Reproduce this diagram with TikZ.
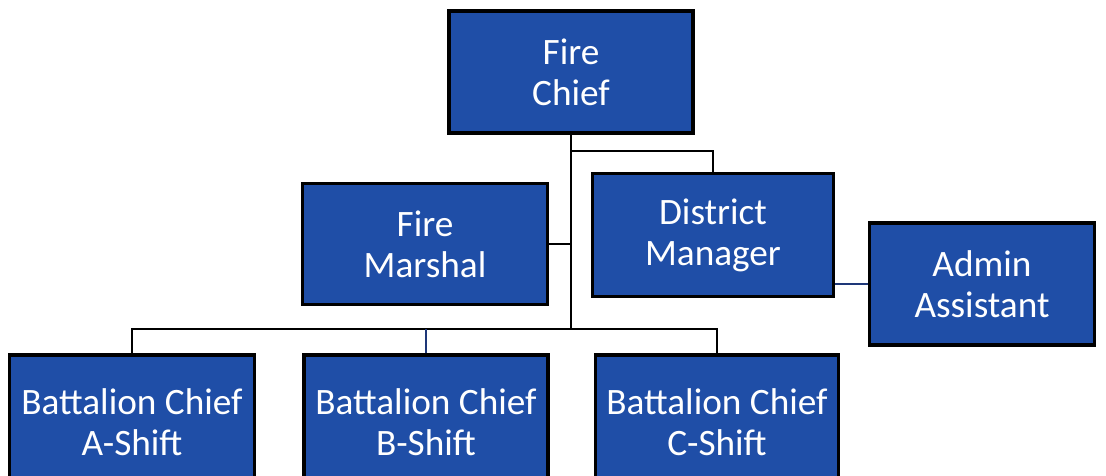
\documentclass[tikz,border=0pt]{standalone}
\usepackage{fontspec}
\setmainfont{Carlito}
\usetikzlibrary{positioning}
\definecolor{boxblue}{RGB}{31,78,167}
\definecolor{linkblue}{RGB}{30,55,120}

\begin{document}
\begin{tikzpicture}[x=0.025cm, y=-0.025cm]
  % styles
  \tikzset{post/.style = {draw=black, line width=2.4pt, fill=boxblue, text=white, align=center,
      font=\fontsize{26.5}{29}\selectfont, inner sep=0pt}}
  \tikzset{link/.style = {draw=black, line width=1.3pt}}

  \useasboundingbox (0,0) rectangle (1106,475);

  % posts
  \node[post, minimum width=244*0.025cm, minimum height=122*0.025cm] (chief) at (571,72) {Fire\\Chief};
  \node[post, minimum width=245*0.025cm, minimum height=121*0.025cm] (marshal) at (425,244) {Fire\\Marshal};
  \node[post, minimum width=241*0.025cm, minimum height=123*0.025cm] (manager) at (713,235) {District\\Manager};
  \node[post, minimum width=225*0.025cm, minimum height=122*0.025cm] (admin) at (982,284) {Admin\\Assistant};
  \node[post, minimum width=245*0.025cm, minimum height=134*0.025cm] (shiftA) at (132,422) {Battalion Chief\\A-Shift};
  \node[post, minimum width=244*0.025cm, minimum height=134*0.025cm] (shiftB) at (426,422) {Battalion Chief\\B-Shift};
  \node[post, minimum width=243*0.025cm, minimum height=134*0.025cm] (shiftC) at (717,422) {Battalion Chief\\C-Shift};

  % branch points
  \coordinate (split) at (571,151);
  \coordinate (trunk) at (571,329);

  % links
  \draw[link] (chief.south) -- (trunk);
  \draw[link] (split) -| (manager.north);
  \draw[link] (marshal.east) -- (marshal.east -| trunk);
  \draw[link] (shiftA.north) |- (trunk) -| (shiftC.north);
  \draw[link, draw=linkblue] (shiftB.north) -- (shiftB.north |- trunk);
  \draw[link, draw=linkblue] (manager.east |- admin.west) -- (admin.west);
\end{tikzpicture}
\end{document}
